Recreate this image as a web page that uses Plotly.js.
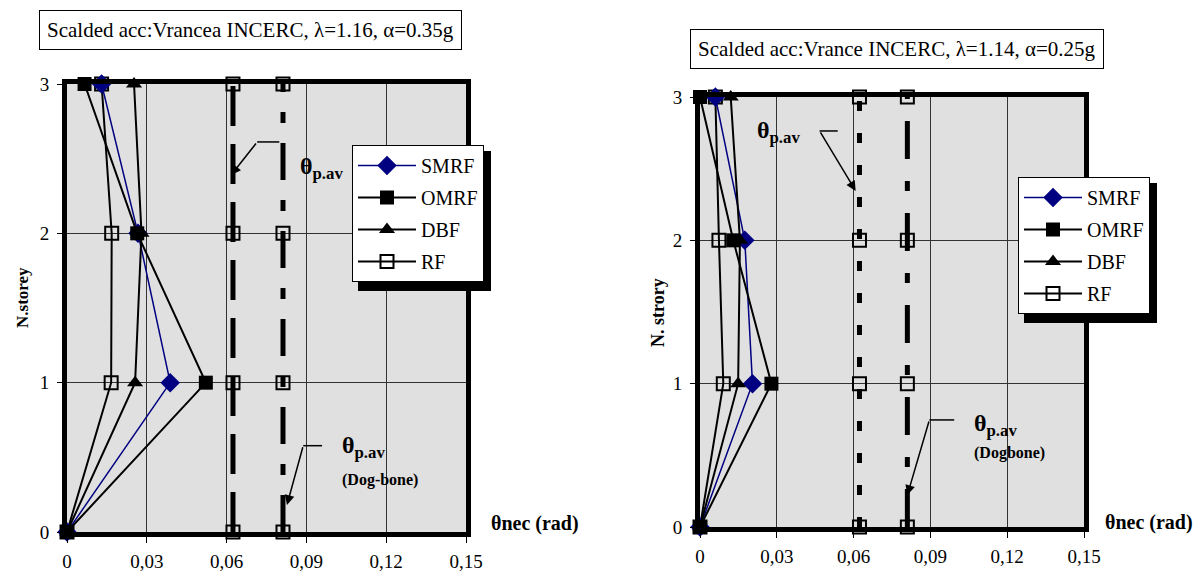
<!DOCTYPE html>
<html>
<head>
<meta charset="utf-8">
<script src="https://cdn.plot.ly/plotly-3.0.1.min.js"></script>
<style>html,body{margin:0;padding:0;background:#fff;}#chart{width:1204px;height:573px;}</style>
</head>
<body>
<div id="chart"></div>
<script>
// ---------- data ----------
const storeys = [0, 1, 2, 3];
const xTickVals = [0, 0.03, 0.06, 0.09, 0.12, 0.15];
const xTickText = ['0', '0,03', '0,06', '0,09', '0,12', '0,15'];
const yTickVals = [0, 1, 2, 3];
const yTickText = ['0', '1', '2', '3'];
const seriesNames = ['SMRF', 'OMRF', 'DBF', 'RF'];

// left chart: Vrancea INCERC, lambda=1.16, alpha=0.35g
const smrfA = [0, 0.0388, 0.0267, 0.013];
const omrfA = [0, 0.0522, 0.0264, 0.0066];
const dbfA = [0, 0.0256, 0.028, 0.0252];
const rfA = [0, 0.0166, 0.0168, 0.013];
const thetaAvA = [0.0624, 0.0624, 0.0624, 0.0624];
const thetaDogA = [0.0812, 0.0812, 0.0812, 0.0812];

// right chart: Vrance INCERC, lambda=1.14, alpha=0.25g
const smrfB = [0, 0.0205, 0.0175, 0.006];
const omrfB = [0, 0.0279, 0.013, 0];
const dbfB = [0, 0.0149, 0.0156, 0.012];
const rfB = [0, 0.0091, 0.0074, 0.006];
const thetaAvB = [0.0623, 0.0623, 0.0623, 0.0623];
const thetaDogB = [0.081, 0.081, 0.081, 0.081];

const titleA = 'Scalded acc:Vrancea INCERC, λ=1.16, α=0.35g';
const titleB = 'Scalded acc:Vrance INCERC, λ=1.14, α=0.25g';
const yTitleA = 'N.storey';
const yTitleB = 'N. strory';
const xTitle = 'θnec (rad)';

// ---------- styling ----------
const W = 1204, H = 573;
const FONT = 'Liberation Serif, Times New Roman, serif';
const NAVY = '#000080';
const px = v => v / W;
const py = v => 1 - v / H;

function limitTrace(xs, dash, xa, ya) {
  return {mode: 'lines+markers', x: xs, y: storeys, xaxis: xa, yaxis: ya, showlegend: false, cliponaxis: false,
    line: {color: '#000', width: 5, dash: dash},
    marker: {symbol: 'square-open', size: 13, color: '#000', line: {width: 2, color: '#000'}}};
}
// drawing order: limits, RF, SMRF, DBF, OMRF (legend order via legendrank)
function chartTraces(sm, om, db, rf, limA, dashA, limB, dashB, xa, ya, leg) {
  const common = {mode: 'lines+markers', xaxis: xa, yaxis: ya, legend: leg, cliponaxis: false};
  return [
    limitTrace(limA, dashA, xa, ya),
    limitTrace(limB, dashB, xa, ya),
    Object.assign({}, common, {name: seriesNames[3], x: rf, y: storeys, legendgroup: leg + 'd', legendrank: 4,
      line: {color: '#000', width: 2}, marker: {symbol: 'square-open', size: 13, color: '#000', line: {width: 2, color: '#000'}}}),
    Object.assign({}, common, {name: seriesNames[0], x: sm, y: storeys, legendgroup: leg + 'a', legendrank: 1,
      line: {color: NAVY, width: 1.5}, marker: {symbol: 'diamond', size: 15, color: NAVY}}),
    Object.assign({}, common, {name: seriesNames[2], x: db, y: storeys, legendgroup: leg + 'c', legendrank: 3,
      line: {color: '#000', width: 2}, marker: {symbol: 'triangle-up', size: 14, color: '#000'}}),
    Object.assign({}, common, {name: seriesNames[1], x: om, y: storeys, legendgroup: leg + 'b', legendrank: 2,
      line: {color: '#000', width: 2}, marker: {symbol: 'square', size: 14, color: '#000'}})
  ];
}

const data = [].concat(
  chartTraces(smrfA, omrfA, dbfA, rfA, thetaAvA, '40px,18px', thetaDogA, '37px,20px,11px,20px', 'x', 'y', 'legend'),
  chartTraces(smrfB, omrfB, dbfB, rfB, thetaAvB, '10px,22px', thetaDogB, '38px,22px,10px,22px', 'x2', 'y2', 'legend2')
);

function xAxis(domain, anchor) {
  return {domain: domain, anchor: anchor, range: [0, 0.15], tickvals: xTickVals, ticktext: xTickText,
    showline: true, mirror: true, linecolor: '#000', linewidth: 5, showgrid: true, gridcolor: '#333', gridwidth: 1,
    zeroline: false, ticks: 'outside', ticklen: 6, tickcolor: '#000', ticklabelstandoff: 2,
    tickfont: {family: FONT, size: 19, color: '#000'}, fixedrange: true};
}
function yAxis(domain, anchor) {
  return {domain: domain, anchor: anchor, range: [0, 3], tickvals: yTickVals, ticktext: yTickText,
    showline: true, mirror: true, linecolor: '#000', linewidth: 5, showgrid: true, gridcolor: '#333', gridwidth: 1,
    zeroline: false, ticks: 'outside', ticklen: 5, tickcolor: '#000', ticklabelstandoff: 4,
    tickfont: {family: FONT, size: 19, color: '#000'}, fixedrange: true};
}

const legendStyle = {bgcolor: '#fff', bordercolor: '#000', borderwidth: 1, xanchor: 'left', yanchor: 'top',
  font: {family: FONT, size: 20, color: '#000'}, itemwidth: 58, traceorder: 'grouped', tracegroupgap: 3,
  itemclick: false, itemdoubleclick: false};

// annotation helpers (data coords)
function textAnn(xr, yr, x, y, text, size) {
  return {xref: xr, yref: yr, x: x, y: y, text: text, showarrow: false, xanchor: 'left', yanchor: 'middle',
    font: {family: FONT, size: size, color: '#000'}};
}
function arrowAnn(xr, yr, hx, hy, tx, ty) {
  return {xref: xr, yref: yr, axref: xr, ayref: yr, x: hx, y: hy, ax: tx, ay: ty, text: '', showarrow: true,
    arrowhead: 2, arrowsize: 1.3, arrowwidth: 1.5, arrowcolor: '#000', standoff: 0, startstandoff: 0};
}
function seg(xr, yr, x0, x1, y) {
  return {type: 'line', xref: xr, yref: yr, x0: x0, x1: x1, y0: y, y1: y, line: {color: '#000', width: 1.5}, layer: 'above'};
}
const THETA = '<b>θ<sub>p.av</sub></b>';

const layout = {
  width: W, height: H, margin: {l: 0, r: 0, t: 0, b: 0},
  paper_bgcolor: '#fff', plot_bgcolor: '#e0e0e0',
  font: {family: FONT, color: '#000'},
  xaxis: xAxis([px(67), px(466)], 'y'),
  yaxis: yAxis([py(532), py(84)], 'x'),
  xaxis2: xAxis([px(700), px(1084)], 'y2'),
  yaxis2: yAxis([py(527), py(97)], 'x2'),
  legend: Object.assign({}, legendStyle, {x: px(352), y: py(145)}),
  legend2: Object.assign({}, legendStyle, {x: px(1018), y: py(177)}),
  shapes: [
    {type: 'rect', xref: 'paper', yref: 'paper', x0: px(358), x1: px(491), y0: py(151), y1: py(291), fillcolor: '#000', line: {width: 0}, layer: 'above'},
    {type: 'rect', xref: 'paper', yref: 'paper', x0: px(1024), x1: px(1157), y0: py(183), y1: py(323), fillcolor: '#000', line: {width: 0}, layer: 'above'},
    seg('x', 'y', 0.0715, 0.0798, 2.612),
    seg('x', 'y', 0.0888, 0.0959, 0.578),
    seg('x2', 'y2', 0.0467, 0.0538, 2.763),
    seg('x2', 'y2', 0.0896, 0.0993, 0.747)
  ],
  annotations: [
    {xref: 'paper', yref: 'paper', x: px(250), y: py(30), xanchor: 'center', yanchor: 'middle', text: titleA, showarrow: false, bgcolor: '#fff',
      bordercolor: '#000', borderwidth: 1, borderpad: 7, font: {family: FONT, size: 21, color: '#000'}},
    {xref: 'paper', yref: 'paper', x: px(897), y: py(49), xanchor: 'center', yanchor: 'middle', text: titleB, showarrow: false, bgcolor: '#fff',
      bordercolor: '#000', borderwidth: 1, borderpad: 7, font: {family: FONT, size: 21, color: '#000'}},
    {xref: 'paper', yref: 'paper', x: px(22), y: py(298), xanchor: 'center', yanchor: 'middle', text: '<b>' + yTitleA + '</b>', textangle: -90, showarrow: false,
      font: {family: FONT, size: 17, color: '#000'}},
    {xref: 'paper', yref: 'paper', x: px(658), y: py(313), xanchor: 'center', yanchor: 'middle', text: '<b>' + yTitleB + '</b>', textangle: -90, showarrow: false,
      font: {family: FONT, size: 18, color: '#000'}},
    {xref: 'paper', yref: 'paper', x: px(489), y: py(523), xanchor: 'left', yanchor: 'middle', text: '<b>' + xTitle + '</b>', showarrow: false,
      font: {family: FONT, size: 20, color: '#000'}},
    {xref: 'paper', yref: 'paper', x: px(1103), y: py(522), xanchor: 'left', yanchor: 'middle', text: '<b>' + xTitle + '</b>', showarrow: false,
      font: {family: FONT, size: 20, color: '#000'}},
    textAnn('x', 'y', 0.0869, 2.438, THETA, 24),
    textAnn('x', 'y', 0.1027, 0.569, THETA, 24),
    textAnn('x', 'y', 0.1027, 0.348, '<b>(Dog-bone)</b>', 16),
    textAnn('x2', 'y2', 0.0214, 2.756, THETA, 24),
    textAnn('x2', 'y2', 0.1064, 0.712, THETA, 24),
    textAnn('x2', 'y2', 0.1064, 0.516, '<b>(Dogbone)</b>', 16),
    arrowAnn('x', 'y', 0.0617, 2.391, 0.0715, 2.612),
    arrowAnn('x', 'y', 0.0827, 0.181, 0.0888, 0.578),
    arrowAnn('x2', 'y2', 0.0608, 2.345, 0.0467, 2.763),
    arrowAnn('x2', 'y2', 0.081, 0.223, 0.0896, 0.747)
  ]
};

Plotly.newPlot('chart', data, layout, {staticPlot: true, displayModeBar: false});
</script>
</body>
</html>
